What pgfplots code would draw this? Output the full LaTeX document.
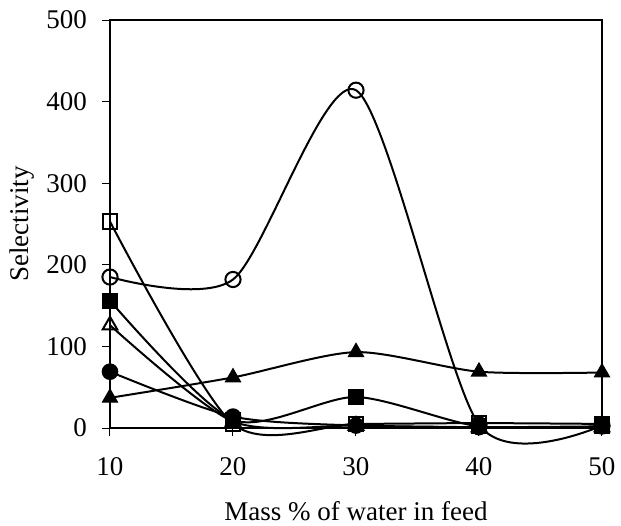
\documentclass[border=0pt]{standalone}
\usepackage{pgfplots}
\pgfplotsset{compat=1.18}
\usepackage{fontspec}
\setmainfont{Liberation Serif}
\begin{document}
\fontsize{13}{15}\selectfont
\begin{tikzpicture}
\useasboundingbox (-55pt,-48.5pt) rectangle (255.5pt,214pt);
\begin{axis}[
  at={(0,0)}, anchor=south west,
  scale only axis, width=246pt, height=204pt,
  xmin=10, xmax=50, ymin=0, ymax=500,
  xtick={10,20,30,40,50}, ytick={0,100,200,300,400,500},
  tick align=outside, tick pos=left,
  major tick length=4pt,
  tick style={black, line width=0.5pt},
  axis line style={line width=0.9pt},
  /pgf/number format/assume math mode=true,
  xticklabel style={font=\fontsize{13.5}{15}\selectfont, yshift=-6pt},
  yticklabel style={font=\fontsize{13.5}{15}\selectfont, xshift=-3pt},
  xlabel={Mass \% of water in feed}, ylabel={Selectivity},
  label style={font=\fontsize{13.5}{15}\selectfont},
  xlabel style={at={(axis description cs:0.5,0)}, anchor=center, yshift=-41.5pt},
  ylabel style={at={(axis description cs:0,0.5)}, anchor=center, yshift=44pt},
  clip=false,
  every axis plot/.append style={black, line width=1pt, smooth, tension=0.45},
  mark options={solid, line width=0.7pt},
]
\addplot[mark=o, mark size=3.8pt, mark options={fill=white}] coordinates {(10,185) (20,182) (30,414) (40,4) (50,3)};
\addplot[mark=triangle*, mark size=4.2pt] coordinates {(10,37) (20,62) (30,93) (40,69) (50,68)};
\addplot[mark=square*, mark size=3.6pt] coordinates {(10,156) (20,10) (30,38) (40,2) (50,2)};
\addplot[mark=triangle, mark size=4.2pt, mark options={fill=white}] coordinates {(10,126) (20,8) (30,3) (40,1) (50,1)};
\addplot[mark=*, mark size=3.8pt] coordinates {(10,69) (20,14) (30,3) (40,1) (50,2)};
\addplot[mark=square, mark size=3.6pt, mark options={fill=white}] coordinates {(10,253) (20,5) (30,5) (40,6) (50,5)};
\end{axis}
\end{tikzpicture}
\end{document}
